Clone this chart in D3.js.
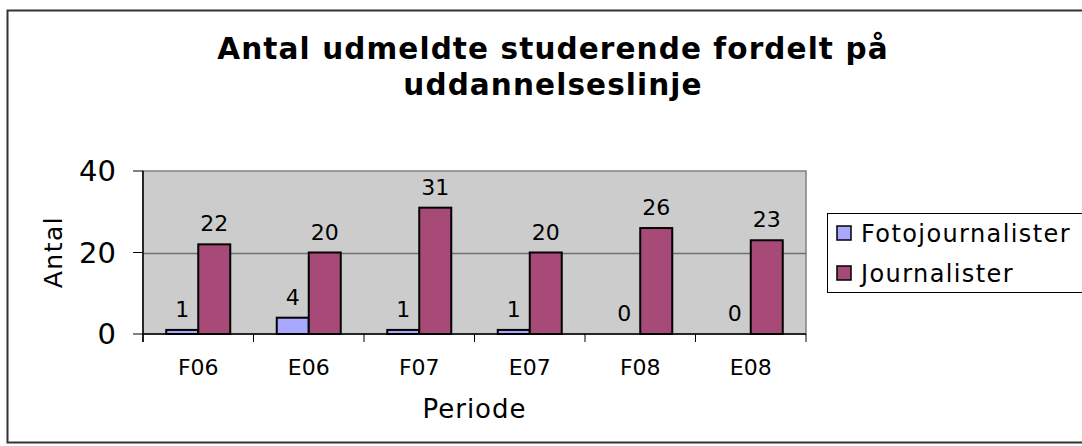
<!DOCTYPE html>
<html>
<head>
<meta charset="utf-8">
<script src="https://cdn.jsdelivr.net/npm/d3@7"></script>
<style>
  body { margin: 0; background: #fff; }
  text { font-family: "DejaVu Sans", Verdana, sans-serif; fill: #000; }
</style>
</head>
<body>
<div id="chart"></div>
<script>
// data
var periods = ['F06', 'E06', 'F07', 'E07', 'F08', 'E08'];
var series_names = ['Fotojournalister', 'Journalister'];
var foto_values = [1, 4, 1, 1, 0, 0];
var journ_values = [22, 20, 31, 20, 26, 23];
var y_ticks = [0, 20, 40];
var title_lines = ['Antal udmeldte studerende fordelt på', 'uddannelseslinje'];

var colors = {'Fotojournalister': '#A8A8FF', 'Journalister': '#A84A78'};

var width = 1082;
var height = 446;
var plot = {'left': 143, 'top': 171, 'right': 806, 'bottom': 334};

var svg = d3.select('#chart')
    .append('svg')
    .attr('width', width)
    .attr('height', height);

// outer frame
svg.append('rect')
    .attr('x', 7.5)
    .attr('y', 10.5)
    .attr('width', width + 20)
    .attr('height', 432)
    .style('fill', '#fff')
    .style('stroke', '#333')
    .style('stroke-width', 2);

// title
svg.append('g').selectAll('text')
    .data(title_lines)
    .enter().append('text')
    .attr('x', 553)
    .attr('y', function(d, i){ return 59 + i * 36; })
    .attr('text-anchor', 'middle')
    .style('font-size', '29.5px')
    .style('font-weight', 'bold')
    .style('letter-spacing', '1.1px')
    .text(function(d){ return d; });

// scales
var x = d3.scaleBand()
    .domain(periods)
    .range([plot.left, plot.right]);

var y = d3.scaleLinear()
    .domain([0, 40])
    .range([plot.bottom, plot.top]);

var inner = d3.scaleBand()
    .domain(series_names)
    .range([0, 64])
    .paddingInner(0);

// plot background
svg.append('rect')
    .attr('x', plot.left)
    .attr('y', plot.top)
    .attr('width', plot.right - plot.left)
    .attr('height', plot.bottom - plot.top)
    .style('fill', '#CCCCCC')
    .style('stroke', '#808080')
    .style('stroke-width', 1.5);

// gridlines
svg.append('g').selectAll('line')
    .data(y_ticks.filter(function(t){ return t > 0 && t < 40; }))
    .enter().append('line')
    .attr('x1', plot.left)
    .attr('x2', plot.right)
    .attr('y1', function(d){ return Math.round(y(d)) + 0.5; })
    .attr('y2', function(d){ return Math.round(y(d)) + 0.5; })
    .style('stroke', '#707070')
    .style('stroke-width', 1.5);

// bars
var rows = periods.map(function(p, i){
    return {'period': p, 'values': [
        {'key': series_names[0], 'value': foto_values[i]},
        {'key': series_names[1], 'value': journ_values[i]}
    ]};
});

var groups = svg.append('g').selectAll('g')
    .data(rows)
    .enter().append('g')
    .attr('transform', function(d){
        return 'translate(' + (x(d.period) + x.bandwidth() / 2 - 32) + ',0)';
    });

groups.selectAll('rect')
    .data(function(d){ return d.values; })
    .enter().append('rect')
    .filter(function(d){ return d.value > 0; })
    .attr('x', function(d){ return inner(d.key); })
    .attr('y', function(d){ return y(d.value); })
    .attr('width', inner.bandwidth())
    .attr('height', function(d){ return y(0) - y(d.value); })
    .style('fill', function(d){ return colors[d.key]; })
    .style('stroke', '#000')
    .style('stroke-width', 2);

groups.selectAll('text')
    .data(function(d){ return d.values; })
    .enter().append('text')
    .attr('x', function(d){ return inner(d.key) + inner.bandwidth() / 2; })
    .attr('y', function(d){ return y(d.value) - 13; })
    .attr('text-anchor', 'middle')
    .style('font-size', '22px')
    .text(function(d){ return d.value; });

// axes
var xAxis = svg.append('g')
    .attr('transform', 'translate(0,' + plot.bottom + ')');
xAxis.append('line')
    .attr('x1', plot.left).attr('x2', plot.right)
    .attr('y1', 0).attr('y2', 0)
    .style('stroke', '#000').style('stroke-width', 1.5);
xAxis.selectAll('.tick')
    .data(periods.concat(['end']))
    .enter().append('line')
    .attr('class', 'tick')
    .attr('x1', function(d, i){ return plot.left + i * x.step(); })
    .attr('x2', function(d, i){ return plot.left + i * x.step(); })
    .attr('y1', 0).attr('y2', 8)
    .style('stroke', '#000');
xAxis.selectAll('text')
    .data(periods)
    .enter().append('text')
    .attr('x', function(d){ return x(d) + x.bandwidth() / 2; })
    .attr('y', 41)
    .attr('text-anchor', 'middle')
    .style('font-size', '22px')
    .text(function(d){ return d; });

var yAxis = svg.append('g');
yAxis.append('line')
    .attr('x1', plot.left).attr('x2', plot.left)
    .attr('y1', plot.top).attr('y2', plot.bottom + 8)
    .style('stroke', '#000').style('stroke-width', 1.5);
yAxis.selectAll('line.tick')
    .data(y_ticks)
    .enter().append('line')
    .attr('class', 'tick')
    .attr('x1', plot.left - 10).attr('x2', plot.left)
    .attr('y1', function(d){ return y(d); })
    .attr('y2', function(d){ return y(d); })
    .style('stroke', '#000');
yAxis.selectAll('text')
    .data(y_ticks)
    .enter().append('text')
    .attr('x', 116)
    .attr('y', function(d){ return y(d) + 10; })
    .attr('text-anchor', 'end')
    .style('font-size', '29px')
    .text(function(d){ return d; });

// axis titles
svg.append('text')
    .attr('transform', 'translate(62,252) rotate(-90)')
    .attr('text-anchor', 'middle')
    .style('font-size', '25px')
    .style('letter-spacing', '1.5px')
    .text('Antal');

svg.append('text')
    .attr('x', (plot.left + plot.right) / 2)
    .attr('y', 418)
    .attr('text-anchor', 'middle')
    .style('font-size', '26px')
    .style('letter-spacing', '1px')
    .text('Periode');

// legend
var legend = svg.append('g');
legend.append('rect')
    .attr('x', 827.5)
    .attr('y', 213.5)
    .attr('width', 300)
    .attr('height', 79)
    .style('fill', '#fff')
    .style('stroke', '#000')
    .style('stroke-width', 1);

var items = legend.selectAll('g')
    .data(series_names)
    .enter().append('g')
    .attr('transform', function(d, i){ return 'translate(837,' + (233 + i * 40) + ')'; });
items.append('rect')
    .attr('x', 0).attr('y', -7)
    .attr('width', 14).attr('height', 14)
    .style('fill', function(d){ return colors[d]; })
    .style('stroke', '#000')
    .style('stroke-width', 1.5);
items.append('text')
    .attr('x', 24)
    .attr('y', 8.5)
    .style('font-size', '24px')
    .style('letter-spacing', '1.4px')
    .text(function(d){ return d; });
</script>
</body>
</html>
